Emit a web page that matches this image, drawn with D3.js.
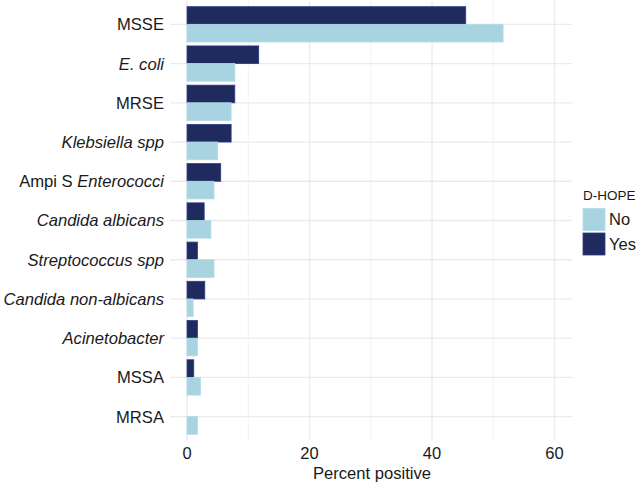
<!DOCTYPE html>
<html>
<head>
<meta charset="utf-8">
<script src="https://cdn.jsdelivr.net/npm/d3@7"></script>
<style>
  html, body { margin: 0; padding: 0; background: #fff; }
  svg { display: block; font-family: "Liberation Sans", Arial, Helvetica, sans-serif; }
</style>
</head>
<body>
<svg id="chart" width="638" height="483"></svg>
<script>
// Categories (top to bottom); each label is split into [text, italic] parts
const categories = ["MSSE", "E. coli", "MRSE", "Klebsiella spp", "Ampi S Enterococci",
  "Candida albicans", "Streptococcus spp", "Candida non-albicans", "Acinetobacter", "MSSA", "MRSA"];
const labelParts = [
  [["MSSE", false]],
  [["E. coli", true]],
  [["MRSE", false]],
  [["Klebsiella spp", true]],
  [["Ampi S ", false], ["Enterococci", true]],
  [["Candida albicans", true]],
  [["Streptococcus spp", true]],
  [["Candida non-albicans", true]],
  [["Acinetobacter", true]],
  [["MSSA", false]],
  [["MRSA", false]]
];
const seriesNames = ["Yes", "No"];
const yesValues = [45.5, 11.7, 7.8, 7.2, 5.5, 2.8, 1.7, 2.9, 1.7, 1.1, 0];
const noValues  = [51.6, 7.8, 7.2, 5.0, 4.4, 3.9, 4.4, 1.0, 1.7, 2.2, 1.7];
const xTicks = [0, 20, 40, 60];
const xMinorTicks = [10, 30, 50];
const legendTitle = "D-HOPE";
const legendItems = ["No", "Yes"];
const xTitle = "Percent positive";

const colors = { Yes: "#1f2b5f", No: "#a8d4e1" };
const strokes = { Yes: "#2e3a8c", No: "#b3dbe6" };

const svg = d3.select("#chart");
const panel = { left: 170, right: 572, top: 0.8, bottom: 440.2 };

const x = d3.scaleLinear().domain([-2.78, 62.85]).range([panel.left, panel.right]);
const y = d3.scalePoint().domain(categories).range([panel.top, panel.bottom]).padding(0.6);
const sub = d3.scaleBand().domain(seriesNames).range([-y.step() * 0.45, y.step() * 0.45]);

// grid
const g = svg.append("g");
g.selectAll(".minor").data(xMinorTicks).join("line")
  .attr("x1", d => x(d)).attr("x2", d => x(d))
  .attr("y1", panel.top).attr("y2", panel.bottom)
  .attr("stroke", "#f3f3f3").attr("stroke-width", 1);
g.selectAll(".major").data(xTicks).join("line")
  .attr("x1", d => x(d)).attr("x2", d => x(d))
  .attr("y1", panel.top).attr("y2", panel.bottom)
  .attr("stroke", "#ebebeb").attr("stroke-width", 1.3);
g.selectAll(".hgrid").data(categories).join("line")
  .attr("x1", panel.left).attr("x2", panel.right)
  .attr("y1", d => y(d)).attr("y2", d => y(d))
  .attr("stroke", "#ebebeb").attr("stroke-width", 1.3);

// bars
const data = [];
categories.forEach((c, i) => {
  data.push({ cat: c, s: "Yes", v: yesValues[i] });
  data.push({ cat: c, s: "No", v: noValues[i] });
});
svg.append("g").selectAll("rect").data(data.filter(d => d.v > 0)).join("rect")
  .attr("x", x(0))
  .attr("y", d => y(d.cat) + sub(d.s))
  .attr("width", d => x(d.v) - x(0))
  .attr("height", sub.bandwidth())
  .attr("fill", d => colors[d.s])
  .attr("stroke", d => strokes[d.s])
  .attr("stroke-width", 0.8);

// y labels
const yl = svg.append("g");
categories.forEach((c, i) => {
  const t = yl.append("text")
    .attr("x", 164).attr("y", y(c))
    .attr("dy", "0.36em")
    .attr("text-anchor", "end")
    .attr("font-size", 16.6)
    .attr("fill", "#1a1a1a");
  labelParts[i].forEach(p => {
    t.append("tspan").text(p[0]).attr("font-style", p[1] ? "italic" : "normal");
  });
});

// x tick labels
svg.append("g").selectAll("text").data(xTicks).join("text")
  .attr("x", d => x(d)).attr("y", 453).attr("dy", "0.36em")
  .attr("text-anchor", "middle").attr("font-size", 16.5).attr("fill", "#1a1a1a")
  .text(d => d);

svg.append("text")
  .attr("x", (panel.left + panel.right) / 2 + 1).attr("y", 473).attr("dy", "0.36em")
  .attr("text-anchor", "middle").attr("font-size", 16.6).attr("fill", "#1a1a1a")
  .text(xTitle);

// legend
const lg = svg.append("g");
lg.append("text").attr("x", 583).attr("y", 195).attr("dy", "0.36em")
  .attr("font-size", 13.5).attr("fill", "#1a1a1a").text(legendTitle);
legendItems.forEach((name, i) => {
  const top = 208.5 + i * 24.5;
  lg.append("rect").attr("x", 583).attr("y", top).attr("width", 22).attr("height", 22)
    .attr("fill", colors[name]).attr("stroke", strokes[name]).attr("stroke-width", 0.8);
  lg.append("text").attr("x", 609).attr("y", top + 11).attr("dy", "0.36em")
    .attr("font-size", 16.5).attr("fill", "#1a1a1a").text(name);
});
</script>
</body>
</html>
